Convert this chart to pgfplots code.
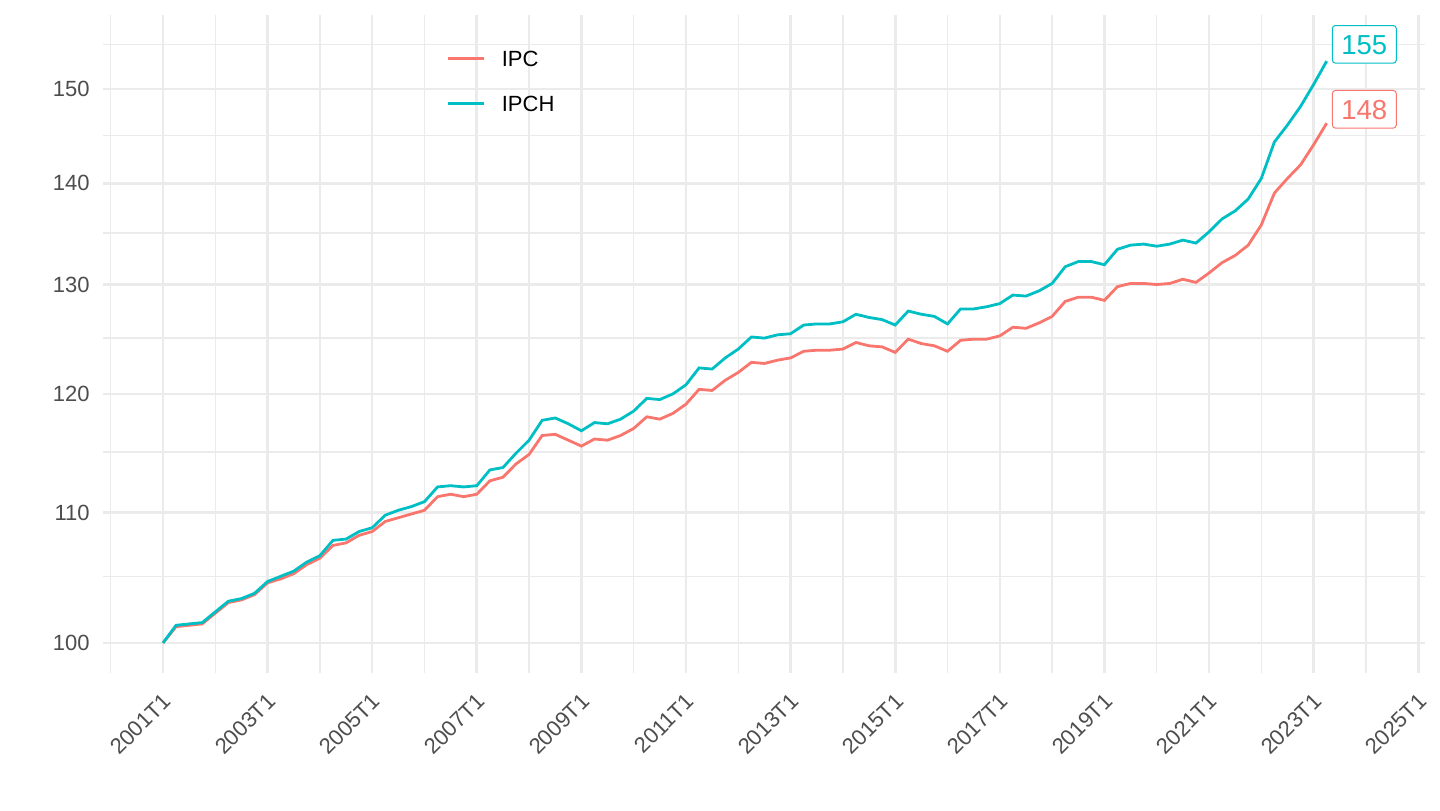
\documentclass[border=0pt]{standalone}
\usepackage{fontspec}
\setmainfont{Liberation Sans}
\usepackage{pgfplots}
\usepackage{pgfplotstable}
\pgfplotsset{compat=1.18}
\definecolor{ipc}{HTML}{F8766D}
\definecolor{ipch}{HTML}{00BFC4}
\definecolor{gridc}{HTML}{EBEBEB}
\definecolor{txt}{HTML}{4D4D4D}
\pgfplotstableread{
t ipc ipch
2001.00 100.0 100.0
2001.25 101.2 101.3
2001.50 101.3 101.4
2001.75 101.4 101.5
2002.00 102.2 102.3
2002.25 103.0 103.1
2002.50 103.2 103.3
2002.75 103.6 103.7
2003.00 104.5 104.6
2003.25 104.8 105.0
2003.50 105.2 105.4
2003.75 105.9 106.1
2004.00 106.4 106.6
2004.25 107.4 107.8
2004.50 107.6 107.9
2004.75 108.2 108.5
2005.00 108.5 108.8
2005.25 109.3 109.8
2005.50 109.6 110.2
2005.75 109.9 110.5
2006.00 110.2 110.9
2006.25 111.3 112.1
2006.50 111.5 112.2
2006.75 111.3 112.1
2007.00 111.5 112.2
2007.25 112.6 113.5
2007.50 112.9 113.7
2007.75 114.0 114.9
2008.00 114.8 116.0
2008.25 116.4 117.7
2008.50 116.5 117.9
2008.75 116.0 117.4
2009.00 115.5 116.8
2009.25 116.1 117.5
2009.50 116.0 117.4
2009.75 116.4 117.8
2010.00 117.0 118.5
2010.25 118.0 119.6
2010.50 117.8 119.5
2010.75 118.3 120.0
2011.00 119.1 120.8
2011.25 120.4 122.3
2011.50 120.3 122.2
2011.75 121.2 123.2
2012.00 121.9 124.0
2012.25 122.8 125.1
2012.50 122.7 125.0
2012.75 123.0 125.3
2013.00 123.2 125.4
2013.25 123.8 126.2
2013.50 123.9 126.3
2013.75 123.9 126.3
2014.00 124.0 126.5
2014.25 124.6 127.2
2014.50 124.3 126.9
2014.75 124.2 126.7
2015.00 123.7 126.2
2015.25 124.9 127.5
2015.50 124.5 127.2
2015.75 124.3 127.0
2016.00 123.8 126.3
2016.25 124.8 127.7
2016.50 124.9 127.7
2016.75 124.9 127.9
2017.00 125.2 128.2
2017.25 126.0 129.0
2017.50 125.9 128.9
2017.75 126.4 129.4
2018.00 127.0 130.1
2018.25 128.4 131.7
2018.50 128.8 132.2
2018.75 128.8 132.2
2019.00 128.5 131.9
2019.25 129.8 133.4
2019.50 130.1 133.8
2019.75 130.1 133.9
2020.00 130.0 133.7
2020.25 130.1 133.9
2020.50 130.5 134.3
2020.75 130.2 134.0
2021.00 131.1 135.1
2021.25 132.1 136.4
2021.50 132.8 137.2
2021.75 133.8 138.4
2022.00 135.8 140.5
2022.25 139.0 144.3
2022.50 140.5 146.1
2022.75 141.9 148.1
2023.00 144.0 150.5
2023.25 146.3 153.1
}\datatable
\begin{document}
\begin{tikzpicture}
\useasboundingbox (0,0) rectangle (720pt,405pt);
\begin{axis}[
  at={(51.5pt,68.5pt)}, anchor=south west,
  scale only axis, width=661pt, height=329pt,
  xmin=1999.853, xmax=2025.13,
  ymode=log, ymin=97.83, ymax=158.37,
  axis line style={draw=none},
  major tick length=0pt, minor tick length=0pt,
  xtick={2001,2003,...,2025},
  xticklabels={2001T1,2003T1,2005T1,2007T1,2009T1,2011T1,2013T1,2015T1,2017T1,2019T1,2021T1,2023T1,2025T1},
  minor xtick={2000,2002,...,2024},
  ytick={100,110,120,130,140,150},
  yticklabels={100,110,120,130,140,150},
  minor ytick={105,115,125,135,145,155},
  grid=both,
  major grid style={draw=gridc, line width=1.3pt},
  minor grid style={draw=gridc, line width=0.7pt},
  /pgf/number format/assume math mode=true,
  tick label style={font=\fontsize{11}{13}\selectfont, text=txt},
  yticklabel style={anchor=east, inner sep=0pt, xshift=-6.5pt},
  xticklabel style={xshift=-0.7pt, yshift=-9.3pt, rotate=45, anchor=north east, inner sep=0pt},
  legend cell align=left,
  legend style={at={(axis description cs:0.2595,0.9468)}, anchor=north west,
    draw=none, fill=none, inner sep=0pt, row sep=14.5pt,
    font=\fontsize{11}{13}\selectfont,
    nodes={inner sep=0pt, text height=8pt, text depth=0pt}},
  legend image code/.code={\path[draw=none, fill=none] (0pt,-4pt) rectangle (27pt,4pt); \draw[#1, line width=1.4pt] (0pt,0pt) -- (18pt,0pt);},
]
\addplot[ipc, line width=1.4pt] table[x=t, y=ipc] {\datatable};
\addlegendentry{IPC}
\addplot[ipch, line width=1.4pt] table[x=t, y=ipch] {\datatable};
\addlegendentry{IPCH}
\node[draw=ipch, fill=white, text=ipch, rounded corners=1.5pt, line width=0.5pt,
  font=\fontsize{13.75}{15}\selectfont, inner xsep=4.5pt, inner ysep=4.5pt,
  text height=9.8pt, text depth=0pt] at (axis cs:2023.97,155.0) {155};
\node[draw=ipc, fill=white, text=ipc, rounded corners=1.5pt, line width=0.5pt,
  font=\fontsize{13.75}{15}\selectfont, inner xsep=4.5pt, inner ysep=4.5pt,
  text height=9.8pt, text depth=0pt] at (axis cs:2023.97,147.8) {148};
\end{axis}
\end{tikzpicture}
\end{document}
